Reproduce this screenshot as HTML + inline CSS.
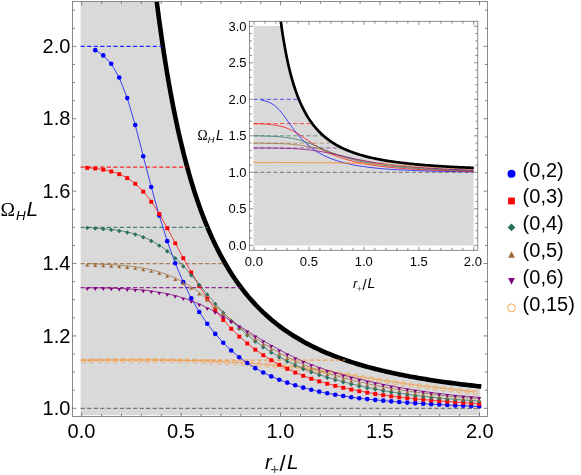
<!DOCTYPE html>
<html><head><meta charset="utf-8"><title>plot</title>
<style>html,body{margin:0;padding:0;background:#fff;}body{width:581px;height:475px;overflow:hidden;position:relative;font-family:"Liberation Sans",sans-serif;}</style></head>
<body>
<svg width="581" height="475" viewBox="0 0 581 475" style="position:absolute;left:0;top:0;will-change:transform;transform:translateZ(0)">
<rect x="0" y="0" width="581" height="475" fill="#fff"/>
<defs><clipPath id="cm"><rect x="72.45" y="1.45" width="415" height="415"/></clipPath>
<clipPath id="ci"><rect x="249.5" y="21.3" width="228.5" height="229"/></clipPath></defs>
<g clip-path="url(#cm)">
<path d="M80.6 415.3 L80.6 -3.55 L153.3 -3.55 L156.98 3.28 L158.2 12.8 L159.42 21.99 L160.65 30.86 L161.87 39.42 L163.1 47.7 L164.32 55.71 L165.54 63.45 L166.77 70.93 L167.99 78.18 L169.22 85.2 L170.44 92 L171.66 98.58 L172.89 104.97 L174.11 111.16 L175.34 117.17 L176.56 122.99 L177.78 128.65 L179.01 134.14 L180.23 139.47 L181.46 144.65 L182.68 149.69 L183.9 154.58 L185.13 159.34 L186.35 163.96 L187.58 168.47 L188.8 172.85 L190.02 177.11 L191.25 181.26 L192.47 185.3 L193.7 189.24 L194.92 193.07 L196.14 196.81 L197.37 200.45 L198.59 204.01 L199.82 207.47 L201.04 210.85 L205.76 223.12 L210.48 234.3 L215.2 244.52 L219.92 253.89 L224.64 262.49 L229.36 270.4 L234.08 277.71 L238.8 284.46 L243.52 290.71 L248.24 296.51 L252.96 301.9 L257.68 306.92 L262.4 311.6 L267.12 315.97 L271.83 320.05 L276.55 323.88 L281.27 327.46 L285.99 330.83 L290.71 334 L295.43 336.98 L300.15 339.78 L304.87 342.43 L309.59 344.93 L314.31 347.29 L319.03 349.53 L323.75 351.64 L328.47 353.65 L333.19 355.55 L337.91 357.36 L342.63 359.08 L347.35 360.71 L352.07 362.26 L356.79 363.74 L361.51 365.15 L366.23 366.5 L370.95 367.79 L375.67 369.01 L380.39 370.19 L385.11 371.31 L389.83 372.38 L394.55 373.41 L399.27 374.4 L403.99 375.34 L408.71 376.25 L413.42 377.12 L418.14 377.95 L422.86 378.75 L427.58 379.53 L432.3 380.27 L437.02 380.98 L441.74 381.67 L446.46 382.33 L451.18 382.97 L455.9 383.58 L460.62 384.18 L465.34 384.75 L470.06 385.3 L474.78 385.83 L479.5 386.35 L480.2 386.42 L480.2 415.3 Z" fill="#d9d9d9"/>
<path d="M141.37 -156.4 L143.08 -134.6 L144.79 -114.06 L146.49 -94.7 L148.2 -76.42 L149.91 -59.13 L151.62 -42.77 L153.33 -27.26 L155.04 -12.54 L156.74 1.43 L158.45 14.71 L160.16 27.35 L161.87 39.39 L163.58 50.87 L165.28 61.82 L166.99 72.28 L168.7 82.27 L170.41 91.83 L172.12 100.97 L173.82 109.72 L175.53 118.11 L177.24 126.16 L178.95 133.88 L180.66 141.29 L182.37 148.41 L184.07 155.25 L185.78 161.82 L187.49 168.15 L189.2 174.25 L190.91 180.11 L192.61 185.77 L194.32 191.21 L196.03 196.47 L197.74 201.54 L199.45 206.43 L201.15 211.16 L202.86 215.72 L204.57 220.14 L206.28 224.4 L207.99 228.52 L209.7 232.51 L211.4 236.38 L213.11 240.11 L214.82 243.73 L216.53 247.24 L218.24 250.64 L219.94 253.94 L221.65 257.13 L223.36 260.23 L225.07 263.24 L226.78 266.16 L228.49 268.99 L230.19 271.74 L231.9 274.41 L233.61 277.01 L235.32 279.53 L237.03 281.99 L238.73 284.37 L240.44 286.69 L242.15 288.95 L243.86 291.14 L245.57 293.28 L247.27 295.36 L248.98 297.39 L250.69 299.36 L252.4 301.28 L254.11 303.16 L255.82 304.98 L257.52 306.76 L259.23 308.5 L260.94 310.19 L262.65 311.84 L264.36 313.45 L266.06 315.02 L267.77 316.55 L269.48 318.05 L271.19 319.51 L272.9 320.93 L274.61 322.33 L276.31 323.69 L278.02 325.02 L279.73 326.31 L281.44 327.58 L283.15 328.82 L284.85 330.04 L286.56 331.22 L288.27 332.38 L289.98 333.52 L291.69 334.63 L293.39 335.71 L295.1 336.77 L296.81 337.81 L298.52 338.83 L300.23 339.83 L301.94 340.8 L303.64 341.75 L305.35 342.69 L307.06 343.61 L308.77 344.5 L310.48 345.38 L312.18 346.24 L313.89 347.09 L315.6 347.91 L317.31 348.72 L319.02 349.52 L320.72 350.3 L322.43 351.06 L324.14 351.81 L325.85 352.55 L327.56 353.27 L329.27 353.98 L330.97 354.67 L332.68 355.35 L334.39 356.02 L336.1 356.68 L337.81 357.32 L339.51 357.95 L341.22 358.57 L342.93 359.18 L344.64 359.78 L346.35 360.37 L348.06 360.95 L349.76 361.51 L351.47 362.07 L353.18 362.62 L354.89 363.16 L356.6 363.68 L358.3 364.2 L360.01 364.71 L361.72 365.22 L363.43 365.71 L365.14 366.2 L366.84 366.67 L368.55 367.14 L370.26 367.6 L371.97 368.06 L373.68 368.5 L375.39 368.94 L377.09 369.37 L378.8 369.8 L380.51 370.22 L382.22 370.63 L383.93 371.03 L385.63 371.43 L387.34 371.82 L389.05 372.21 L390.76 372.59 L392.47 372.96 L394.17 373.33 L395.88 373.69 L397.59 374.05 L399.3 374.4 L401.01 374.75 L402.72 375.09 L404.42 375.43 L406.13 375.76 L407.84 376.08 L409.55 376.4 L411.26 376.72 L412.96 377.03 L414.67 377.34 L416.38 377.64 L418.09 377.94 L419.8 378.24 L421.51 378.53 L423.21 378.81 L424.92 379.09 L426.63 379.37 L428.34 379.65 L430.05 379.92 L431.75 380.18 L433.46 380.45 L435.17 380.7 L436.88 380.96 L438.59 381.21 L440.29 381.46 L442 381.71 L443.71 381.95 L445.42 382.19 L447.13 382.42 L448.84 382.65 L450.54 382.88 L452.25 383.11 L453.96 383.33 L455.67 383.55 L457.38 383.77 L459.08 383.98 L460.79 384.2 L462.5 384.41 L464.21 384.61 L465.92 384.82 L467.62 385.02 L469.33 385.22 L471.04 385.41 L472.75 385.61 L474.46 385.8 L476.17 385.99 L477.87 386.17 L479.58 386.36 L481.29 386.54" fill="none" stroke="#000" stroke-width="4.6" stroke-linejoin="round"/>
<line x1="80.6" y1="408.3" x2="480.2" y2="408.3" stroke="#3c3c3c" stroke-width="0.8" stroke-dasharray="4.2 2.35"/>
<line x1="80.6" y1="46.4" x2="162.9" y2="46.4" stroke="#0000ff" stroke-width="1.2" stroke-dasharray="4.2 2.35" stroke-opacity="0.82"/>
<line x1="80.6" y1="167.03" x2="187.18" y2="167.03" stroke="#ff0000" stroke-width="1.2" stroke-dasharray="4.2 2.35" stroke-opacity="0.82"/>
<line x1="80.6" y1="227.35" x2="207.5" y2="227.35" stroke="#2a6f60" stroke-width="1.2" stroke-dasharray="4.2 2.35" stroke-opacity="0.82"/>
<line x1="80.6" y1="263.54" x2="225.24" y2="263.54" stroke="#9c6a3a" stroke-width="1.2" stroke-dasharray="4.2 2.35" stroke-opacity="0.82"/>
<line x1="80.6" y1="287.67" x2="241.17" y2="287.67" stroke="#800080" stroke-width="1.2" stroke-dasharray="4.2 2.35" stroke-opacity="0.82"/>
<line x1="80.6" y1="360.05" x2="345.41" y2="360.05" stroke="#f79433" stroke-width="1.2" stroke-dasharray="4.2 2.35" stroke-opacity="0.82"/>
<path d="M83.3 360.29 L91.3 360.17 L99.3 360.07 L107.3 359.98 L115.3 359.91 L123.3 359.86 L131.3 359.83 L139.3 359.83 L147.3 359.85 L155.3 359.9 L163.3 359.99 L171.3 360.1 L179.3 360.25 L187.3 360.43 L195.3 360.65 L203.3 360.91 L211.3 361.22 L219.3 361.56 L227.3 361.96 L235.3 362.39 L243.3 362.88 L251.3 363.42 L259.3 364.02 L267.3 364.67 L275.3 365.37 L283.3 366.14 L291.3 366.96 L299.3 367.85 L307.3 368.8 L315.3 369.82 L323.3 370.91 L331.3 372.07 L339.3 373.29 L347.3 374.57 L355.3 375.88 L363.3 377.19 L371.3 378.51 L379.3 379.79 L387.3 381.03 L395.3 382.22 L403.3 383.35 L411.3 384.43 L419.3 385.46 L427.3 386.46 L435.3 387.43 L443.3 388.36 L451.3 389.27 L459.3 390.16 L467.3 391.04 L475.3 391.91" fill="none" stroke="#f79433" stroke-width="0.72" stroke-linejoin="round"/>
<g><circle cx="83.3" cy="360.79" r="2.2" fill="none" stroke="#f79433" stroke-width="0.6"/><circle cx="91.3" cy="360.67" r="2.2" fill="none" stroke="#f79433" stroke-width="0.6"/><circle cx="99.3" cy="360.57" r="2.2" fill="none" stroke="#f79433" stroke-width="0.6"/><circle cx="107.3" cy="360.48" r="2.2" fill="none" stroke="#f79433" stroke-width="0.6"/><circle cx="115.3" cy="360.41" r="2.2" fill="none" stroke="#f79433" stroke-width="0.6"/><circle cx="123.3" cy="360.36" r="2.2" fill="none" stroke="#f79433" stroke-width="0.6"/><circle cx="131.3" cy="360.33" r="2.2" fill="none" stroke="#f79433" stroke-width="0.6"/><circle cx="139.3" cy="360.33" r="2.2" fill="none" stroke="#f79433" stroke-width="0.6"/><circle cx="147.3" cy="360.35" r="2.2" fill="none" stroke="#f79433" stroke-width="0.6"/><circle cx="155.3" cy="360.4" r="2.2" fill="none" stroke="#f79433" stroke-width="0.6"/><circle cx="163.3" cy="360.49" r="2.2" fill="none" stroke="#f79433" stroke-width="0.6"/><circle cx="171.3" cy="360.6" r="2.2" fill="none" stroke="#f79433" stroke-width="0.6"/><circle cx="179.3" cy="360.75" r="2.2" fill="none" stroke="#f79433" stroke-width="0.6"/><circle cx="187.3" cy="360.93" r="2.2" fill="none" stroke="#f79433" stroke-width="0.6"/><circle cx="195.3" cy="361.15" r="2.2" fill="none" stroke="#f79433" stroke-width="0.6"/><circle cx="203.3" cy="361.41" r="2.2" fill="none" stroke="#f79433" stroke-width="0.6"/><circle cx="211.3" cy="361.72" r="2.2" fill="none" stroke="#f79433" stroke-width="0.6"/><circle cx="219.3" cy="362.06" r="2.2" fill="none" stroke="#f79433" stroke-width="0.6"/><circle cx="227.3" cy="362.46" r="2.2" fill="none" stroke="#f79433" stroke-width="0.6"/><circle cx="235.3" cy="362.89" r="2.2" fill="none" stroke="#f79433" stroke-width="0.6"/><circle cx="243.3" cy="363.38" r="2.2" fill="none" stroke="#f79433" stroke-width="0.6"/><circle cx="251.3" cy="363.92" r="2.2" fill="none" stroke="#f79433" stroke-width="0.6"/><circle cx="259.3" cy="364.52" r="2.2" fill="none" stroke="#f79433" stroke-width="0.6"/><circle cx="267.3" cy="365.17" r="2.2" fill="none" stroke="#f79433" stroke-width="0.6"/><circle cx="275.3" cy="365.87" r="2.2" fill="none" stroke="#f79433" stroke-width="0.6"/><circle cx="283.3" cy="366.64" r="2.2" fill="none" stroke="#f79433" stroke-width="0.6"/><circle cx="291.3" cy="367.46" r="2.2" fill="none" stroke="#f79433" stroke-width="0.6"/><circle cx="299.3" cy="368.35" r="2.2" fill="none" stroke="#f79433" stroke-width="0.6"/><circle cx="307.3" cy="369.3" r="2.2" fill="none" stroke="#f79433" stroke-width="0.6"/><circle cx="315.3" cy="370.32" r="2.2" fill="none" stroke="#f79433" stroke-width="0.6"/><circle cx="323.3" cy="371.41" r="2.2" fill="none" stroke="#f79433" stroke-width="0.6"/><circle cx="331.3" cy="372.57" r="2.2" fill="none" stroke="#f79433" stroke-width="0.6"/><circle cx="339.3" cy="373.79" r="2.2" fill="none" stroke="#f79433" stroke-width="0.6"/><circle cx="347.3" cy="375.07" r="2.2" fill="none" stroke="#f79433" stroke-width="0.6"/><circle cx="355.3" cy="376.38" r="2.2" fill="none" stroke="#f79433" stroke-width="0.6"/><circle cx="363.3" cy="377.69" r="2.2" fill="none" stroke="#f79433" stroke-width="0.6"/><circle cx="371.3" cy="379.01" r="2.2" fill="none" stroke="#f79433" stroke-width="0.6"/><circle cx="379.3" cy="380.29" r="2.2" fill="none" stroke="#f79433" stroke-width="0.6"/><circle cx="387.3" cy="381.53" r="2.2" fill="none" stroke="#f79433" stroke-width="0.6"/><circle cx="395.3" cy="382.72" r="2.2" fill="none" stroke="#f79433" stroke-width="0.6"/><circle cx="403.3" cy="383.85" r="2.2" fill="none" stroke="#f79433" stroke-width="0.6"/><circle cx="411.3" cy="384.93" r="2.2" fill="none" stroke="#f79433" stroke-width="0.6"/><circle cx="419.3" cy="385.96" r="2.2" fill="none" stroke="#f79433" stroke-width="0.6"/><circle cx="427.3" cy="386.96" r="2.2" fill="none" stroke="#f79433" stroke-width="0.6"/><circle cx="435.3" cy="387.93" r="2.2" fill="none" stroke="#f79433" stroke-width="0.6"/><circle cx="443.3" cy="388.86" r="2.2" fill="none" stroke="#f79433" stroke-width="0.6"/><circle cx="451.3" cy="389.77" r="2.2" fill="none" stroke="#f79433" stroke-width="0.6"/><circle cx="459.3" cy="390.66" r="2.2" fill="none" stroke="#f79433" stroke-width="0.6"/><circle cx="467.3" cy="391.54" r="2.2" fill="none" stroke="#f79433" stroke-width="0.6"/><circle cx="475.3" cy="392.41" r="2.2" fill="none" stroke="#f79433" stroke-width="0.6"/></g>
<path d="M95.25 50.15 L103.25 55.41 L111.25 63.82 L119.25 77.52 L127.25 98.09 L135.25 124.99 L143.25 156.2 L151.25 186.97 L159.25 215.55 L167.25 241.17 L175.25 263.27 L183.25 282.14 L191.25 298.22 L199.25 311.96 L207.25 323.75 L215.25 333.91 L223.25 342.76 L231.25 350.49 L239.25 357.21 L247.25 363.06 L255.25 368.14 L263.25 372.55 L271.25 376.38 L279.25 379.72 L287.25 382.66 L295.25 385.3 L303.25 387.67 L311.25 389.78 L319.25 391.65 L327.25 393.31 L335.25 394.77 L343.25 396.07 L351.25 397.21 L359.25 398.22 L367.25 399.11 L375.25 399.92 L383.25 400.66 L391.25 401.34 L399.25 401.98 L407.25 402.58 L415.25 403.13 L423.25 403.65 L431.25 404.13 L439.25 404.57 L447.25 404.99 L455.25 405.38 L463.25 405.74 L471.25 406.09 L479.25 406.41" fill="none" stroke="#0000ff" stroke-width="0.72" stroke-linejoin="round"/>
<g><circle cx="95.25" cy="50.15" r="2.3" fill="#0000ff"/><circle cx="103.25" cy="55.41" r="2.3" fill="#0000ff"/><circle cx="111.25" cy="63.82" r="2.3" fill="#0000ff"/><circle cx="119.25" cy="77.52" r="2.3" fill="#0000ff"/><circle cx="127.25" cy="98.09" r="2.3" fill="#0000ff"/><circle cx="135.25" cy="124.99" r="2.3" fill="#0000ff"/><circle cx="143.25" cy="156.2" r="2.3" fill="#0000ff"/><circle cx="151.25" cy="186.97" r="2.3" fill="#0000ff"/><circle cx="159.25" cy="215.55" r="2.3" fill="#0000ff"/><circle cx="167.25" cy="241.17" r="2.3" fill="#0000ff"/><circle cx="175.25" cy="263.27" r="2.3" fill="#0000ff"/><circle cx="183.25" cy="282.14" r="2.3" fill="#0000ff"/><circle cx="191.25" cy="298.22" r="2.3" fill="#0000ff"/><circle cx="199.25" cy="311.96" r="2.3" fill="#0000ff"/><circle cx="207.25" cy="323.75" r="2.3" fill="#0000ff"/><circle cx="215.25" cy="333.91" r="2.3" fill="#0000ff"/><circle cx="223.25" cy="342.76" r="2.3" fill="#0000ff"/><circle cx="231.25" cy="350.49" r="2.3" fill="#0000ff"/><circle cx="239.25" cy="357.21" r="2.3" fill="#0000ff"/><circle cx="247.25" cy="363.06" r="2.3" fill="#0000ff"/><circle cx="255.25" cy="368.14" r="2.3" fill="#0000ff"/><circle cx="263.25" cy="372.55" r="2.3" fill="#0000ff"/><circle cx="271.25" cy="376.38" r="2.3" fill="#0000ff"/><circle cx="279.25" cy="379.72" r="2.3" fill="#0000ff"/><circle cx="287.25" cy="382.66" r="2.3" fill="#0000ff"/><circle cx="295.25" cy="385.3" r="2.3" fill="#0000ff"/><circle cx="303.25" cy="387.67" r="2.3" fill="#0000ff"/><circle cx="311.25" cy="389.78" r="2.3" fill="#0000ff"/><circle cx="319.25" cy="391.65" r="2.3" fill="#0000ff"/><circle cx="327.25" cy="393.31" r="2.3" fill="#0000ff"/><circle cx="335.25" cy="394.77" r="2.3" fill="#0000ff"/><circle cx="343.25" cy="396.07" r="2.3" fill="#0000ff"/><circle cx="351.25" cy="397.21" r="2.3" fill="#0000ff"/><circle cx="359.25" cy="398.22" r="2.3" fill="#0000ff"/><circle cx="367.25" cy="399.11" r="2.3" fill="#0000ff"/><circle cx="375.25" cy="399.92" r="2.3" fill="#0000ff"/><circle cx="383.25" cy="400.66" r="2.3" fill="#0000ff"/><circle cx="391.25" cy="401.34" r="2.3" fill="#0000ff"/><circle cx="399.25" cy="401.98" r="2.3" fill="#0000ff"/><circle cx="407.25" cy="402.58" r="2.3" fill="#0000ff"/><circle cx="415.25" cy="403.13" r="2.3" fill="#0000ff"/><circle cx="423.25" cy="403.65" r="2.3" fill="#0000ff"/><circle cx="431.25" cy="404.13" r="2.3" fill="#0000ff"/><circle cx="439.25" cy="404.57" r="2.3" fill="#0000ff"/><circle cx="447.25" cy="404.99" r="2.3" fill="#0000ff"/><circle cx="455.25" cy="405.38" r="2.3" fill="#0000ff"/><circle cx="463.25" cy="405.74" r="2.3" fill="#0000ff"/><circle cx="471.25" cy="406.09" r="2.3" fill="#0000ff"/><circle cx="479.25" cy="406.41" r="2.3" fill="#0000ff"/></g>
<path d="M87.25 167.65 L95.25 168.3 L103.25 169.47 L111.25 171.3 L119.25 173.97 L127.25 177.91 L135.25 183.6 L143.25 191.46 L151.25 201.53 L159.25 213.79 L167.25 228 L175.25 243.1 L183.25 257.99 L191.25 272.29 L199.25 285.82 L207.25 298.36 L215.25 309.72 L223.25 319.77 L231.25 328.61 L239.25 336.39 L247.25 343.28 L255.25 349.43 L263.25 355.01 L271.25 360.05 L279.25 364.59 L287.25 368.68 L295.25 372.35 L303.25 375.64 L311.25 378.58 L319.25 381.21 L327.25 383.57 L335.25 385.69 L343.25 387.61 L351.25 389.37 L359.25 390.98 L367.25 392.45 L375.25 393.78 L383.25 394.99 L391.25 396.1 L399.25 397.1 L407.25 398.01 L415.25 398.84 L423.25 399.59 L431.25 400.29 L439.25 400.93 L447.25 401.54 L455.25 402.11 L463.25 402.66 L471.25 403.2 L479.25 403.74" fill="none" stroke="#ff0000" stroke-width="0.72" stroke-linejoin="round"/>
<g><rect x="85.3" y="165.9" width="3.9" height="3.9" fill="#ff0000"/><rect x="93.3" y="166.55" width="3.9" height="3.9" fill="#ff0000"/><rect x="101.3" y="167.72" width="3.9" height="3.9" fill="#ff0000"/><rect x="109.3" y="169.55" width="3.9" height="3.9" fill="#ff0000"/><rect x="117.3" y="172.22" width="3.9" height="3.9" fill="#ff0000"/><rect x="125.3" y="176.16" width="3.9" height="3.9" fill="#ff0000"/><rect x="133.3" y="181.85" width="3.9" height="3.9" fill="#ff0000"/><rect x="141.3" y="189.71" width="3.9" height="3.9" fill="#ff0000"/><rect x="149.3" y="199.78" width="3.9" height="3.9" fill="#ff0000"/><rect x="157.3" y="212.04" width="3.9" height="3.9" fill="#ff0000"/><rect x="165.3" y="226.25" width="3.9" height="3.9" fill="#ff0000"/><rect x="173.3" y="241.35" width="3.9" height="3.9" fill="#ff0000"/><rect x="181.3" y="256.24" width="3.9" height="3.9" fill="#ff0000"/><rect x="189.3" y="270.54" width="3.9" height="3.9" fill="#ff0000"/><rect x="197.3" y="284.07" width="3.9" height="3.9" fill="#ff0000"/><rect x="205.3" y="296.61" width="3.9" height="3.9" fill="#ff0000"/><rect x="213.3" y="307.97" width="3.9" height="3.9" fill="#ff0000"/><rect x="221.3" y="318.02" width="3.9" height="3.9" fill="#ff0000"/><rect x="229.3" y="326.86" width="3.9" height="3.9" fill="#ff0000"/><rect x="237.3" y="334.64" width="3.9" height="3.9" fill="#ff0000"/><rect x="245.3" y="341.53" width="3.9" height="3.9" fill="#ff0000"/><rect x="253.3" y="347.68" width="3.9" height="3.9" fill="#ff0000"/><rect x="261.3" y="353.26" width="3.9" height="3.9" fill="#ff0000"/><rect x="269.3" y="358.3" width="3.9" height="3.9" fill="#ff0000"/><rect x="277.3" y="362.84" width="3.9" height="3.9" fill="#ff0000"/><rect x="285.3" y="366.93" width="3.9" height="3.9" fill="#ff0000"/><rect x="293.3" y="370.6" width="3.9" height="3.9" fill="#ff0000"/><rect x="301.3" y="373.89" width="3.9" height="3.9" fill="#ff0000"/><rect x="309.3" y="376.83" width="3.9" height="3.9" fill="#ff0000"/><rect x="317.3" y="379.46" width="3.9" height="3.9" fill="#ff0000"/><rect x="325.3" y="381.82" width="3.9" height="3.9" fill="#ff0000"/><rect x="333.3" y="383.94" width="3.9" height="3.9" fill="#ff0000"/><rect x="341.3" y="385.86" width="3.9" height="3.9" fill="#ff0000"/><rect x="349.3" y="387.62" width="3.9" height="3.9" fill="#ff0000"/><rect x="357.3" y="389.23" width="3.9" height="3.9" fill="#ff0000"/><rect x="365.3" y="390.7" width="3.9" height="3.9" fill="#ff0000"/><rect x="373.3" y="392.03" width="3.9" height="3.9" fill="#ff0000"/><rect x="381.3" y="393.24" width="3.9" height="3.9" fill="#ff0000"/><rect x="389.3" y="394.35" width="3.9" height="3.9" fill="#ff0000"/><rect x="397.3" y="395.35" width="3.9" height="3.9" fill="#ff0000"/><rect x="405.3" y="396.26" width="3.9" height="3.9" fill="#ff0000"/><rect x="413.3" y="397.09" width="3.9" height="3.9" fill="#ff0000"/><rect x="421.3" y="397.84" width="3.9" height="3.9" fill="#ff0000"/><rect x="429.3" y="398.54" width="3.9" height="3.9" fill="#ff0000"/><rect x="437.3" y="399.18" width="3.9" height="3.9" fill="#ff0000"/><rect x="445.3" y="399.79" width="3.9" height="3.9" fill="#ff0000"/><rect x="453.3" y="400.36" width="3.9" height="3.9" fill="#ff0000"/><rect x="461.3" y="400.91" width="3.9" height="3.9" fill="#ff0000"/><rect x="469.3" y="401.45" width="3.9" height="3.9" fill="#ff0000"/><rect x="477.3" y="401.99" width="3.9" height="3.9" fill="#ff0000"/></g>
<path d="M87.25 227.39 L95.25 228.04 L103.25 228.66 L111.25 229.42 L119.25 230.46 L127.25 231.94 L135.25 234.01 L143.25 236.81 L151.25 240.48 L159.25 245.11 L167.25 250.82 L175.25 257.72 L183.25 265.85 L191.25 274.89 L199.25 284.44 L207.25 294.11 L215.25 303.5 L223.25 312.29 L231.25 320.42 L239.25 327.93 L247.25 334.83 L255.25 341.14 L263.25 346.9 L271.25 352.13 L279.25 356.88 L287.25 361.17 L295.25 365.06 L303.25 368.56 L311.25 371.73 L319.25 374.6 L327.25 377.21 L335.25 379.59 L343.25 381.78 L351.25 383.81 L359.25 385.7 L367.25 387.44 L375.25 389.06 L383.25 390.55 L391.25 391.92 L399.25 393.18 L407.25 394.33 L415.25 395.38 L423.25 396.34 L431.25 397.21 L439.25 398.01 L447.25 398.72 L455.25 399.37 L463.25 399.96 L471.25 400.5 L479.25 400.99" fill="none" stroke="#2a6f60" stroke-width="0.72" stroke-linejoin="round"/>
<g><path d="M87.25 225.69L89.45 227.89L87.25 230.09L85.05 227.89Z" fill="#2a6f60"/><path d="M95.25 226.34L97.45 228.54L95.25 230.74L93.05 228.54Z" fill="#2a6f60"/><path d="M103.25 226.96L105.45 229.16L103.25 231.36L101.05 229.16Z" fill="#2a6f60"/><path d="M111.25 227.72L113.45 229.92L111.25 232.12L109.05 229.92Z" fill="#2a6f60"/><path d="M119.25 228.76L121.45 230.96L119.25 233.16L117.05 230.96Z" fill="#2a6f60"/><path d="M127.25 230.24L129.45 232.44L127.25 234.64L125.05 232.44Z" fill="#2a6f60"/><path d="M135.25 232.31L137.45 234.51L135.25 236.71L133.05 234.51Z" fill="#2a6f60"/><path d="M143.25 235.11L145.45 237.31L143.25 239.51L141.05 237.31Z" fill="#2a6f60"/><path d="M151.25 238.78L153.45 240.98L151.25 243.18L149.05 240.98Z" fill="#2a6f60"/><path d="M159.25 243.41L161.45 245.61L159.25 247.81L157.05 245.61Z" fill="#2a6f60"/><path d="M167.25 249.12L169.45 251.32L167.25 253.52L165.05 251.32Z" fill="#2a6f60"/><path d="M175.25 256.02L177.45 258.22L175.25 260.42L173.05 258.22Z" fill="#2a6f60"/><path d="M183.25 264.15L185.45 266.35L183.25 268.55L181.05 266.35Z" fill="#2a6f60"/><path d="M191.25 273.19L193.45 275.39L191.25 277.59L189.05 275.39Z" fill="#2a6f60"/><path d="M199.25 282.74L201.45 284.94L199.25 287.14L197.05 284.94Z" fill="#2a6f60"/><path d="M207.25 292.41L209.45 294.61L207.25 296.81L205.05 294.61Z" fill="#2a6f60"/><path d="M215.25 301.8L217.45 304L215.25 306.2L213.05 304Z" fill="#2a6f60"/><path d="M223.25 310.59L225.45 312.79L223.25 314.99L221.05 312.79Z" fill="#2a6f60"/><path d="M231.25 318.72L233.45 320.92L231.25 323.12L229.05 320.92Z" fill="#2a6f60"/><path d="M239.25 326.23L241.45 328.43L239.25 330.63L237.05 328.43Z" fill="#2a6f60"/><path d="M247.25 333.13L249.45 335.33L247.25 337.53L245.05 335.33Z" fill="#2a6f60"/><path d="M255.25 339.44L257.45 341.64L255.25 343.84L253.05 341.64Z" fill="#2a6f60"/><path d="M263.25 345.2L265.45 347.4L263.25 349.6L261.05 347.4Z" fill="#2a6f60"/><path d="M271.25 350.43L273.45 352.63L271.25 354.83L269.05 352.63Z" fill="#2a6f60"/><path d="M279.25 355.18L281.45 357.38L279.25 359.58L277.05 357.38Z" fill="#2a6f60"/><path d="M287.25 359.47L289.45 361.67L287.25 363.87L285.05 361.67Z" fill="#2a6f60"/><path d="M295.25 363.36L297.45 365.56L295.25 367.76L293.05 365.56Z" fill="#2a6f60"/><path d="M303.25 366.86L305.45 369.06L303.25 371.26L301.05 369.06Z" fill="#2a6f60"/><path d="M311.25 370.03L313.45 372.23L311.25 374.43L309.05 372.23Z" fill="#2a6f60"/><path d="M319.25 372.9L321.45 375.1L319.25 377.3L317.05 375.1Z" fill="#2a6f60"/><path d="M327.25 375.51L329.45 377.71L327.25 379.91L325.05 377.71Z" fill="#2a6f60"/><path d="M335.25 377.89L337.45 380.09L335.25 382.29L333.05 380.09Z" fill="#2a6f60"/><path d="M343.25 380.08L345.45 382.28L343.25 384.48L341.05 382.28Z" fill="#2a6f60"/><path d="M351.25 382.11L353.45 384.31L351.25 386.51L349.05 384.31Z" fill="#2a6f60"/><path d="M359.25 384L361.45 386.2L359.25 388.4L357.05 386.2Z" fill="#2a6f60"/><path d="M367.25 385.74L369.45 387.94L367.25 390.14L365.05 387.94Z" fill="#2a6f60"/><path d="M375.25 387.36L377.45 389.56L375.25 391.76L373.05 389.56Z" fill="#2a6f60"/><path d="M383.25 388.85L385.45 391.05L383.25 393.25L381.05 391.05Z" fill="#2a6f60"/><path d="M391.25 390.22L393.45 392.42L391.25 394.62L389.05 392.42Z" fill="#2a6f60"/><path d="M399.25 391.48L401.45 393.68L399.25 395.88L397.05 393.68Z" fill="#2a6f60"/><path d="M407.25 392.63L409.45 394.83L407.25 397.03L405.05 394.83Z" fill="#2a6f60"/><path d="M415.25 393.68L417.45 395.88L415.25 398.08L413.05 395.88Z" fill="#2a6f60"/><path d="M423.25 394.64L425.45 396.84L423.25 399.04L421.05 396.84Z" fill="#2a6f60"/><path d="M431.25 395.51L433.45 397.71L431.25 399.91L429.05 397.71Z" fill="#2a6f60"/><path d="M439.25 396.31L441.45 398.51L439.25 400.71L437.05 398.51Z" fill="#2a6f60"/><path d="M447.25 397.02L449.45 399.22L447.25 401.42L445.05 399.22Z" fill="#2a6f60"/><path d="M455.25 397.67L457.45 399.87L455.25 402.07L453.05 399.87Z" fill="#2a6f60"/><path d="M463.25 398.26L465.45 400.46L463.25 402.66L461.05 400.46Z" fill="#2a6f60"/><path d="M471.25 398.8L473.45 401L471.25 403.2L469.05 401Z" fill="#2a6f60"/><path d="M479.25 399.29L481.45 401.49L479.25 403.69L477.05 401.49Z" fill="#2a6f60"/></g>
<path d="M87.25 263.51 L95.25 263.92 L103.25 264.29 L111.25 264.69 L119.25 265.21 L127.25 265.9 L135.25 266.85 L143.25 268.13 L151.25 269.81 L159.25 271.97 L167.25 274.68 L175.25 278.01 L183.25 282.04 L191.25 286.83 L199.25 292.42 L207.25 298.81 L215.25 305.71 L223.25 312.81 L231.25 319.8 L239.25 326.43 L247.25 332.48 L255.25 338.05 L263.25 343.26 L271.25 348.15 L279.25 352.7 L287.25 356.92 L295.25 360.8 L303.25 364.34 L311.25 367.55 L319.25 370.46 L327.25 373.1 L335.25 375.52 L343.25 377.75 L351.25 379.84 L359.25 381.79 L367.25 383.61 L375.25 385.3 L383.25 386.88 L391.25 388.34 L399.25 389.7 L407.25 390.96 L415.25 392.13 L423.25 393.21 L431.25 394.21 L439.25 395.14 L447.25 396 L455.25 396.8 L463.25 397.55 L471.25 398.24 L479.25 398.9" fill="none" stroke="#9c6a3a" stroke-width="0.72" stroke-linejoin="round"/>
<g><path d="M87.25 263.11L89.3 266.51L85.2 266.51Z" fill="#9c6a3a"/><path d="M95.25 263.52L97.3 266.92L93.2 266.92Z" fill="#9c6a3a"/><path d="M103.25 263.89L105.3 267.29L101.2 267.29Z" fill="#9c6a3a"/><path d="M111.25 264.29L113.3 267.69L109.2 267.69Z" fill="#9c6a3a"/><path d="M119.25 264.81L121.3 268.21L117.2 268.21Z" fill="#9c6a3a"/><path d="M127.25 265.5L129.3 268.9L125.2 268.9Z" fill="#9c6a3a"/><path d="M135.25 266.45L137.3 269.85L133.2 269.85Z" fill="#9c6a3a"/><path d="M143.25 267.73L145.3 271.13L141.2 271.13Z" fill="#9c6a3a"/><path d="M151.25 269.41L153.3 272.81L149.2 272.81Z" fill="#9c6a3a"/><path d="M159.25 271.57L161.3 274.97L157.2 274.97Z" fill="#9c6a3a"/><path d="M167.25 274.28L169.3 277.68L165.2 277.68Z" fill="#9c6a3a"/><path d="M175.25 277.61L177.3 281.01L173.2 281.01Z" fill="#9c6a3a"/><path d="M183.25 281.64L185.3 285.04L181.2 285.04Z" fill="#9c6a3a"/><path d="M191.25 286.43L193.3 289.83L189.2 289.83Z" fill="#9c6a3a"/><path d="M199.25 292.02L201.3 295.42L197.2 295.42Z" fill="#9c6a3a"/><path d="M207.25 298.41L209.3 301.81L205.2 301.81Z" fill="#9c6a3a"/><path d="M215.25 305.31L217.3 308.71L213.2 308.71Z" fill="#9c6a3a"/><path d="M223.25 312.41L225.3 315.81L221.2 315.81Z" fill="#9c6a3a"/><path d="M231.25 319.4L233.3 322.8L229.2 322.8Z" fill="#9c6a3a"/><path d="M239.25 326.03L241.3 329.43L237.2 329.43Z" fill="#9c6a3a"/><path d="M247.25 332.08L249.3 335.48L245.2 335.48Z" fill="#9c6a3a"/><path d="M255.25 337.65L257.3 341.05L253.2 341.05Z" fill="#9c6a3a"/><path d="M263.25 342.86L265.3 346.26L261.2 346.26Z" fill="#9c6a3a"/><path d="M271.25 347.75L273.3 351.15L269.2 351.15Z" fill="#9c6a3a"/><path d="M279.25 352.3L281.3 355.7L277.2 355.7Z" fill="#9c6a3a"/><path d="M287.25 356.52L289.3 359.92L285.2 359.92Z" fill="#9c6a3a"/><path d="M295.25 360.4L297.3 363.8L293.2 363.8Z" fill="#9c6a3a"/><path d="M303.25 363.94L305.3 367.34L301.2 367.34Z" fill="#9c6a3a"/><path d="M311.25 367.15L313.3 370.55L309.2 370.55Z" fill="#9c6a3a"/><path d="M319.25 370.06L321.3 373.46L317.2 373.46Z" fill="#9c6a3a"/><path d="M327.25 372.7L329.3 376.1L325.2 376.1Z" fill="#9c6a3a"/><path d="M335.25 375.12L337.3 378.52L333.2 378.52Z" fill="#9c6a3a"/><path d="M343.25 377.35L345.3 380.75L341.2 380.75Z" fill="#9c6a3a"/><path d="M351.25 379.44L353.3 382.84L349.2 382.84Z" fill="#9c6a3a"/><path d="M359.25 381.39L361.3 384.79L357.2 384.79Z" fill="#9c6a3a"/><path d="M367.25 383.21L369.3 386.61L365.2 386.61Z" fill="#9c6a3a"/><path d="M375.25 384.9L377.3 388.3L373.2 388.3Z" fill="#9c6a3a"/><path d="M383.25 386.48L385.3 389.88L381.2 389.88Z" fill="#9c6a3a"/><path d="M391.25 387.94L393.3 391.34L389.2 391.34Z" fill="#9c6a3a"/><path d="M399.25 389.3L401.3 392.7L397.2 392.7Z" fill="#9c6a3a"/><path d="M407.25 390.56L409.3 393.96L405.2 393.96Z" fill="#9c6a3a"/><path d="M415.25 391.73L417.3 395.13L413.2 395.13Z" fill="#9c6a3a"/><path d="M423.25 392.81L425.3 396.21L421.2 396.21Z" fill="#9c6a3a"/><path d="M431.25 393.81L433.3 397.21L429.2 397.21Z" fill="#9c6a3a"/><path d="M439.25 394.74L441.3 398.14L437.2 398.14Z" fill="#9c6a3a"/><path d="M447.25 395.6L449.3 399L445.2 399Z" fill="#9c6a3a"/><path d="M455.25 396.4L457.3 399.8L453.2 399.8Z" fill="#9c6a3a"/><path d="M463.25 397.15L465.3 400.55L461.2 400.55Z" fill="#9c6a3a"/><path d="M471.25 397.84L473.3 401.24L469.2 401.24Z" fill="#9c6a3a"/><path d="M479.25 398.5L481.3 401.9L477.2 401.9Z" fill="#9c6a3a"/></g>
<path d="M87.25 287.79 L95.25 287.8 L103.25 287.89 L111.25 288.1 L119.25 288.41 L127.25 288.84 L135.25 289.4 L143.25 290.11 L151.25 291.02 L159.25 292.19 L167.25 293.7 L175.25 295.6 L183.25 297.96 L191.25 300.77 L199.25 304.01 L207.25 307.69 L215.25 311.77 L223.25 316.23 L231.25 320.99 L239.25 325.92 L247.25 330.91 L255.25 335.87 L263.25 340.68 L271.25 345.31 L279.25 349.72 L287.25 353.89 L295.25 357.77 L303.25 361.34 L311.25 364.58 L319.25 367.52 L327.25 370.2 L335.25 372.65 L343.25 374.93 L351.25 377.06 L359.25 379.05 L367.25 380.93 L375.25 382.7 L383.25 384.38 L391.25 385.96 L399.25 387.45 L407.25 388.85 L415.25 390.15 L423.25 391.37 L431.25 392.5 L439.25 393.53 L447.25 394.47 L455.25 395.32 L463.25 396.07 L471.25 396.73 L479.25 397.3" fill="none" stroke="#800080" stroke-width="0.72" stroke-linejoin="round"/>
<g><path d="M87.25 290.89L89.3 287.49L85.2 287.49Z" fill="#800080"/><path d="M95.25 290.9L97.3 287.5L93.2 287.5Z" fill="#800080"/><path d="M103.25 290.99L105.3 287.59L101.2 287.59Z" fill="#800080"/><path d="M111.25 291.2L113.3 287.8L109.2 287.8Z" fill="#800080"/><path d="M119.25 291.51L121.3 288.11L117.2 288.11Z" fill="#800080"/><path d="M127.25 291.94L129.3 288.54L125.2 288.54Z" fill="#800080"/><path d="M135.25 292.5L137.3 289.1L133.2 289.1Z" fill="#800080"/><path d="M143.25 293.21L145.3 289.81L141.2 289.81Z" fill="#800080"/><path d="M151.25 294.12L153.3 290.72L149.2 290.72Z" fill="#800080"/><path d="M159.25 295.29L161.3 291.89L157.2 291.89Z" fill="#800080"/><path d="M167.25 296.8L169.3 293.4L165.2 293.4Z" fill="#800080"/><path d="M175.25 298.7L177.3 295.3L173.2 295.3Z" fill="#800080"/><path d="M183.25 301.06L185.3 297.66L181.2 297.66Z" fill="#800080"/><path d="M191.25 303.87L193.3 300.47L189.2 300.47Z" fill="#800080"/><path d="M199.25 307.11L201.3 303.71L197.2 303.71Z" fill="#800080"/><path d="M207.25 310.79L209.3 307.39L205.2 307.39Z" fill="#800080"/><path d="M215.25 314.87L217.3 311.47L213.2 311.47Z" fill="#800080"/><path d="M223.25 319.33L225.3 315.93L221.2 315.93Z" fill="#800080"/><path d="M231.25 324.09L233.3 320.69L229.2 320.69Z" fill="#800080"/><path d="M239.25 329.02L241.3 325.62L237.2 325.62Z" fill="#800080"/><path d="M247.25 334.01L249.3 330.61L245.2 330.61Z" fill="#800080"/><path d="M255.25 338.97L257.3 335.57L253.2 335.57Z" fill="#800080"/><path d="M263.25 343.78L265.3 340.38L261.2 340.38Z" fill="#800080"/><path d="M271.25 348.41L273.3 345.01L269.2 345.01Z" fill="#800080"/><path d="M279.25 352.82L281.3 349.42L277.2 349.42Z" fill="#800080"/><path d="M287.25 356.99L289.3 353.59L285.2 353.59Z" fill="#800080"/><path d="M295.25 360.87L297.3 357.47L293.2 357.47Z" fill="#800080"/><path d="M303.25 364.44L305.3 361.04L301.2 361.04Z" fill="#800080"/><path d="M311.25 367.68L313.3 364.28L309.2 364.28Z" fill="#800080"/><path d="M319.25 370.62L321.3 367.22L317.2 367.22Z" fill="#800080"/><path d="M327.25 373.3L329.3 369.9L325.2 369.9Z" fill="#800080"/><path d="M335.25 375.75L337.3 372.35L333.2 372.35Z" fill="#800080"/><path d="M343.25 378.03L345.3 374.63L341.2 374.63Z" fill="#800080"/><path d="M351.25 380.16L353.3 376.76L349.2 376.76Z" fill="#800080"/><path d="M359.25 382.15L361.3 378.75L357.2 378.75Z" fill="#800080"/><path d="M367.25 384.03L369.3 380.63L365.2 380.63Z" fill="#800080"/><path d="M375.25 385.8L377.3 382.4L373.2 382.4Z" fill="#800080"/><path d="M383.25 387.48L385.3 384.08L381.2 384.08Z" fill="#800080"/><path d="M391.25 389.06L393.3 385.66L389.2 385.66Z" fill="#800080"/><path d="M399.25 390.55L401.3 387.15L397.2 387.15Z" fill="#800080"/><path d="M407.25 391.95L409.3 388.55L405.2 388.55Z" fill="#800080"/><path d="M415.25 393.25L417.3 389.85L413.2 389.85Z" fill="#800080"/><path d="M423.25 394.47L425.3 391.07L421.2 391.07Z" fill="#800080"/><path d="M431.25 395.6L433.3 392.2L429.2 392.2Z" fill="#800080"/><path d="M439.25 396.63L441.3 393.23L437.2 393.23Z" fill="#800080"/><path d="M447.25 397.57L449.3 394.17L445.2 394.17Z" fill="#800080"/><path d="M455.25 398.42L457.3 395.02L453.2 395.02Z" fill="#800080"/><path d="M463.25 399.17L465.3 395.77L461.2 395.77Z" fill="#800080"/><path d="M471.25 399.83L473.3 396.43L469.2 396.43Z" fill="#800080"/><path d="M479.25 400.4L481.3 397L477.2 397Z" fill="#800080"/></g>
</g>
<rect x="72.45" y="1.45" width="415" height="415" fill="none" stroke="#787878" stroke-width="0.85"/>
<path d="M81.7 416.45v-3.9M81.7 1.45v3.9M101.59 416.45v-2.5M101.59 1.45v2.5M121.48 416.45v-2.5M121.48 1.45v2.5M141.37 416.45v-2.5M141.37 1.45v2.5M161.26 416.45v-2.5M161.26 1.45v2.5M181.15 416.45v-3.9M181.15 1.45v3.9M201.04 416.45v-2.5M201.04 1.45v2.5M220.93 416.45v-2.5M220.93 1.45v2.5M240.82 416.45v-2.5M240.82 1.45v2.5M260.71 416.45v-2.5M260.71 1.45v2.5M280.6 416.45v-3.9M280.6 1.45v3.9M300.49 416.45v-2.5M300.49 1.45v2.5M320.38 416.45v-2.5M320.38 1.45v2.5M340.27 416.45v-2.5M340.27 1.45v2.5M360.16 416.45v-2.5M360.16 1.45v2.5M380.05 416.45v-3.9M380.05 1.45v3.9M399.94 416.45v-2.5M399.94 1.45v2.5M419.83 416.45v-2.5M419.83 1.45v2.5M439.72 416.45v-2.5M439.72 1.45v2.5M459.61 416.45v-2.5M459.61 1.45v2.5M479.5 416.45v-3.9M479.5 1.45v3.9M72.45 408.3h3.9M487.45 408.3h-3.9M72.45 390.2h2.5M487.45 390.2h-2.5M72.45 372.11h2.5M487.45 372.11h-2.5M72.45 354.02h2.5M487.45 354.02h-2.5M72.45 335.92h3.9M487.45 335.92h-3.9M72.45 317.83h2.5M487.45 317.83h-2.5M72.45 299.73h2.5M487.45 299.73h-2.5M72.45 281.63h2.5M487.45 281.63h-2.5M72.45 263.54h3.9M487.45 263.54h-3.9M72.45 245.45h2.5M487.45 245.45h-2.5M72.45 227.35h2.5M487.45 227.35h-2.5M72.45 209.25h2.5M487.45 209.25h-2.5M72.45 191.16h3.9M487.45 191.16h-3.9M72.45 173.07h2.5M487.45 173.07h-2.5M72.45 154.97h2.5M487.45 154.97h-2.5M72.45 136.88h2.5M487.45 136.88h-2.5M72.45 118.78h3.9M487.45 118.78h-3.9M72.45 100.69h2.5M487.45 100.69h-2.5M72.45 82.59h2.5M487.45 82.59h-2.5M72.45 64.49h2.5M487.45 64.49h-2.5M72.45 46.4h3.9M487.45 46.4h-3.9M72.45 28.31h2.5M487.45 28.31h-2.5M72.45 10.21h2.5M487.45 10.21h-2.5" stroke="#5a5a5a" stroke-width="0.75" fill="none"/>
<text x="70.4" y="415" text-anchor="end" font-family="Liberation Sans, sans-serif" font-size="20">1.0</text>
<text x="70.4" y="342.62" text-anchor="end" font-family="Liberation Sans, sans-serif" font-size="20">1.2</text>
<text x="70.4" y="270.24" text-anchor="end" font-family="Liberation Sans, sans-serif" font-size="20">1.4</text>
<text x="70.4" y="197.86" text-anchor="end" font-family="Liberation Sans, sans-serif" font-size="20">1.6</text>
<text x="70.4" y="125.48" text-anchor="end" font-family="Liberation Sans, sans-serif" font-size="20">1.8</text>
<text x="70.4" y="53.1" text-anchor="end" font-family="Liberation Sans, sans-serif" font-size="20">2.0</text>
<text x="81.5" y="437.9" text-anchor="middle" font-family="Liberation Sans, sans-serif" font-size="20">0.0</text>
<text x="180.95" y="437.9" text-anchor="middle" font-family="Liberation Sans, sans-serif" font-size="20">0.5</text>
<text x="280.4" y="437.9" text-anchor="middle" font-family="Liberation Sans, sans-serif" font-size="20">1.0</text>
<text x="379.85" y="437.9" text-anchor="middle" font-family="Liberation Sans, sans-serif" font-size="20">1.5</text>
<text x="479.8" y="437.9" text-anchor="middle" font-family="Liberation Sans, sans-serif" font-size="20">2.0</text>
<text x="0.5" y="215.9" font-size="19.5" font-family="Liberation Serif, serif">&#937;</text>
<text x="15.9" y="219.6" font-size="13.4" font-family="Liberation Sans, sans-serif" font-style="italic">H</text>
<text x="26.6" y="215.9" font-size="20.8" font-family="Liberation Sans, sans-serif" font-style="italic">L</text>
<text x="264.9" y="468.8" font-size="20" font-family="Liberation Sans, sans-serif" font-style="italic">r</text>
<text x="274.7" y="473.7" font-size="14.3" text-anchor="middle" font-family="Liberation Sans, sans-serif" fill="#4a4a4a">+</text>
<text x="279.4" y="471.2" font-size="22" font-family="Liberation Sans, sans-serif">/</text>
<text x="287.0" y="468.8" font-size="20.8" font-family="Liberation Sans, sans-serif" font-style="italic">L</text>
<rect x="249.5" y="21.3" width="228.25" height="229" fill="#fff"/>
<g clip-path="url(#ci)">
<path d="M253.6 245.6 L253.6 26.1 L281.48 26.1 L281.94 29.57 L282.94 36.12 L283.93 42.2 L284.93 47.88 L285.92 53.17 L286.91 58.13 L287.91 62.77 L288.9 67.13 L289.9 71.22 L290.89 75.08 L291.89 78.71 L292.88 82.15 L293.87 85.39 L294.87 88.46 L295.86 91.37 L296.86 94.13 L297.85 96.75 L298.84 99.24 L299.84 101.61 L300.83 103.87 L301.83 106.02 L302.82 108.07 L303.81 110.03 L304.81 111.9 L305.8 113.69 L306.8 115.4 L307.79 117.04 L308.78 118.61 L309.78 120.11 L310.77 121.55 L311.77 122.94 L312.76 124.26 L313.75 125.54 L314.75 126.77 L315.74 127.95 L316.74 129.09 L317.73 130.18 L318.73 131.23 L319.72 132.25 L320.71 133.23 L321.71 134.17 L322.7 135.08 L323.7 135.96 L324.69 136.81 L325.68 137.63 L326.68 138.43 L327.67 139.19 L328.67 139.94 L329.66 140.65 L330.65 141.35 L331.65 142.02 L332.64 142.67 L333.64 143.3 L334.63 143.91 L335.62 144.51 L336.62 145.08 L337.61 145.64 L338.61 146.18 L339.6 146.71 L340.59 147.21 L341.59 147.71 L342.58 148.19 L343.58 148.66 L344.57 149.11 L345.56 149.55 L346.56 149.98 L347.55 150.4 L348.55 150.81 L349.54 151.2 L350.54 151.59 L351.53 151.96 L352.52 152.32 L353.52 152.68 L354.51 153.03 L355.51 153.36 L356.5 153.69 L357.49 154.01 L358.49 154.32 L359.48 154.63 L360.48 154.93 L361.47 155.21 L362.46 155.5 L363.46 155.77 L364.45 156.04 L365.45 156.31 L366.44 156.56 L367.43 156.81 L368.43 157.06 L369.42 157.3 L370.42 157.53 L371.41 157.76 L372.4 157.98 L373.4 158.2 L374.39 158.41 L375.39 158.62 L376.38 158.83 L377.38 159.03 L378.37 159.22 L379.36 159.41 L380.36 159.6 L381.35 159.78 L382.35 159.96 L383.34 160.14 L384.33 160.31 L385.33 160.48 L386.32 160.64 L387.32 160.8 L388.31 160.96 L389.3 161.12 L390.3 161.27 L391.29 161.42 L392.29 161.56 L393.28 161.71 L394.27 161.85 L395.27 161.98 L396.26 162.12 L397.26 162.25 L398.25 162.38 L399.24 162.51 L400.24 162.63 L401.23 162.76 L402.23 162.88 L403.22 162.99 L404.22 163.11 L405.21 163.22 L406.2 163.34 L407.2 163.45 L408.19 163.55 L409.19 163.66 L410.18 163.76 L411.17 163.86 L412.17 163.96 L413.16 164.06 L414.16 164.16 L415.15 164.26 L416.14 164.35 L417.14 164.44 L418.13 164.53 L419.13 164.62 L420.12 164.71 L421.11 164.79 L422.11 164.88 L423.1 164.96 L424.1 165.04 L425.09 165.12 L426.08 165.2 L427.08 165.28 L428.07 165.36 L429.07 165.43 L430.06 165.51 L431.05 165.58 L432.05 165.65 L433.04 165.72 L434.04 165.79 L435.03 165.86 L436.03 165.93 L437.02 165.99 L438.01 166.06 L439.01 166.12 L440 166.18 L441 166.25 L441.99 166.31 L442.98 166.37 L443.98 166.43 L444.97 166.49 L445.97 166.55 L446.96 166.6 L447.95 166.66 L448.95 166.71 L449.94 166.77 L450.94 166.82 L451.93 166.88 L452.92 166.93 L453.92 166.98 L454.91 167.03 L455.91 167.08 L456.9 167.13 L457.89 167.18 L458.89 167.23 L459.88 167.27 L460.88 167.32 L461.87 167.37 L462.87 167.41 L463.86 167.46 L464.85 167.5 L465.85 167.54 L466.84 167.59 L467.84 167.63 L468.83 167.67 L469.82 167.71 L470.82 167.75 L471.81 167.79 L472.81 167.83 L473.8 167.87 L473.6 167.87 L473.6 245.6 Z" fill="#d9d9d9"/>
<line x1="253.6" y1="172.3" x2="473.6" y2="172.3" stroke="#444" stroke-width="0.7" stroke-dasharray="4.1 2.5"/>
<line x1="253.6" y1="99.3" x2="298.87" y2="99.3" stroke="#0000ff" stroke-width="0.75" stroke-dasharray="4.1 2.5" stroke-opacity="0.85"/>
<line x1="253.6" y1="123.63" x2="312.28" y2="123.63" stroke="#ff0000" stroke-width="0.75" stroke-dasharray="4.1 2.5" stroke-opacity="0.85"/>
<line x1="253.6" y1="135.8" x2="323.51" y2="135.8" stroke="#2a6f60" stroke-width="0.75" stroke-dasharray="4.1 2.5" stroke-opacity="0.85"/>
<line x1="253.6" y1="143.1" x2="333.31" y2="143.1" stroke="#9c6a3a" stroke-width="0.75" stroke-dasharray="4.1 2.5" stroke-opacity="0.85"/>
<line x1="253.6" y1="147.97" x2="342.12" y2="147.97" stroke="#800080" stroke-width="0.75" stroke-dasharray="4.1 2.5" stroke-opacity="0.85"/>
<line x1="253.6" y1="162.57" x2="399.71" y2="162.57" stroke="#f79433" stroke-width="0.75" stroke-dasharray="4.1 2.5" stroke-opacity="0.85"/>
<path d="M260.26 99.56 L261.49 100.06 L265.91 101.12 L270.33 102.81 L274.75 105.58 L279.17 109.73 L283.59 115.15 L288.01 121.45 L292.43 127.66 L296.85 133.42 L301.27 138.59 L305.69 143.05 L310.11 146.85 L314.53 150.1 L318.95 152.87 L323.37 155.24 L327.79 157.29 L332.21 159.08 L336.63 160.64 L341.05 161.99 L345.47 163.17 L349.89 164.2 L354.31 165.09 L358.73 165.86 L363.15 166.53 L367.57 167.13 L371.99 167.66 L376.42 168.14 L380.84 168.56 L385.26 168.94 L389.68 169.28 L394.1 169.57 L398.52 169.83 L402.94 170.06 L407.36 170.27 L411.78 170.45 L416.2 170.61 L420.62 170.76 L425.04 170.9 L429.46 171.03 L433.88 171.15 L438.3 171.26 L442.72 171.36 L447.14 171.46 L451.56 171.55 L455.98 171.63 L460.4 171.71 L464.82 171.78 L469.24 171.85 L473.66 171.92" fill="none" stroke="#0000ff" stroke-width="0.7" stroke-linejoin="round"/>
<path d="M253.67 123.63 L257.07 123.76 L261.49 123.89 L265.91 124.13 L270.33 124.49 L274.75 125.03 L279.17 125.83 L283.59 126.98 L288.01 128.56 L292.43 130.59 L296.85 133.06 L301.27 135.93 L305.69 138.98 L310.11 141.98 L314.53 144.87 L318.95 147.59 L323.37 150.12 L327.79 152.42 L332.21 154.44 L336.63 156.22 L341.05 157.79 L345.47 159.18 L349.89 160.43 L354.31 161.55 L358.73 162.57 L363.15 163.48 L367.57 164.31 L371.99 165.05 L376.42 165.71 L380.84 166.3 L385.26 166.84 L389.68 167.31 L394.1 167.74 L398.52 168.13 L402.94 168.48 L407.36 168.81 L411.78 169.1 L416.2 169.37 L420.62 169.62 L425.04 169.84 L429.46 170.04 L433.88 170.22 L438.3 170.39 L442.72 170.54 L447.14 170.68 L451.56 170.81 L455.98 170.94 L460.4 171.05 L464.82 171.16 L469.24 171.27 L473.66 171.38" fill="none" stroke="#ff0000" stroke-width="0.7" stroke-linejoin="round"/>
<path d="M253.67 135.8 L257.07 135.81 L261.49 135.94 L265.91 136.06 L270.33 136.22 L274.75 136.43 L279.17 136.73 L283.59 137.14 L288.01 137.71 L292.43 138.45 L296.85 139.38 L301.27 140.53 L305.69 141.93 L310.11 143.57 L314.53 145.39 L318.95 147.32 L323.37 149.27 L327.79 151.16 L332.21 152.93 L336.63 154.57 L341.05 156.09 L345.47 157.48 L349.89 158.75 L354.31 159.92 L358.73 160.97 L363.15 161.93 L367.57 162.79 L371.99 163.58 L376.42 164.28 L380.84 164.92 L385.26 165.5 L389.68 166.03 L394.1 166.51 L398.52 166.95 L402.94 167.36 L407.36 167.74 L411.78 168.09 L416.2 168.42 L420.62 168.72 L425.04 169 L429.46 169.25 L433.88 169.48 L438.3 169.69 L442.72 169.89 L447.14 170.06 L451.56 170.22 L455.98 170.37 L460.4 170.5 L464.82 170.62 L469.24 170.73 L473.66 170.82" fill="none" stroke="#2a6f60" stroke-width="0.7" stroke-linejoin="round"/>
<path d="M253.67 143.1 L257.07 143.09 L261.49 143.18 L265.91 143.25 L270.33 143.33 L274.75 143.44 L279.17 143.58 L283.59 143.77 L288.01 144.03 L292.43 144.37 L296.85 144.8 L301.27 145.35 L305.69 146.02 L310.11 146.83 L314.53 147.8 L318.95 148.92 L323.37 150.21 L327.79 151.61 L332.21 153.04 L336.63 154.45 L341.05 155.79 L345.47 157.01 L349.89 158.13 L354.31 159.18 L358.73 160.17 L363.15 161.08 L367.57 161.94 L371.99 162.72 L376.42 163.43 L380.84 164.08 L385.26 164.67 L389.68 165.2 L394.1 165.69 L398.52 166.14 L402.94 166.56 L407.36 166.95 L411.78 167.32 L416.2 167.66 L420.62 167.98 L425.04 168.27 L429.46 168.55 L433.88 168.8 L438.3 169.04 L442.72 169.26 L447.14 169.46 L451.56 169.65 L455.98 169.82 L460.4 169.98 L464.82 170.13 L469.24 170.27 L473.66 170.4" fill="none" stroke="#9c6a3a" stroke-width="0.7" stroke-linejoin="round"/>
<path d="M253.67 147.97 L257.07 147.99 L261.49 147.99 L265.91 148.01 L270.33 148.05 L274.75 148.12 L279.17 148.2 L283.59 148.32 L288.01 148.46 L292.43 148.64 L296.85 148.88 L301.27 149.18 L305.69 149.57 L310.11 150.04 L314.53 150.61 L318.95 151.26 L323.37 152 L327.79 152.83 L332.21 153.73 L336.63 154.69 L341.05 155.68 L345.47 156.69 L349.89 157.69 L354.31 158.66 L358.73 159.59 L363.15 160.48 L367.57 161.32 L371.99 162.11 L376.42 162.83 L380.84 163.48 L385.26 164.07 L389.68 164.61 L394.1 165.11 L398.52 165.57 L402.94 166 L407.36 166.4 L411.78 166.78 L416.2 167.14 L420.62 167.47 L425.04 167.79 L429.46 168.09 L433.88 168.38 L438.3 168.64 L442.72 168.89 L447.14 169.11 L451.56 169.32 L455.98 169.51 L460.4 169.68 L464.82 169.83 L469.24 169.97 L473.66 170.08" fill="none" stroke="#800080" stroke-width="0.7" stroke-linejoin="round"/>
<path d="M253.67 162.57 L254.88 162.62 L259.3 162.59 L263.72 162.57 L268.14 162.55 L272.57 162.54 L276.99 162.53 L281.41 162.52 L285.83 162.52 L290.25 162.53 L294.67 162.54 L299.09 162.55 L303.51 162.58 L307.93 162.61 L312.35 162.64 L316.77 162.69 L321.19 162.74 L325.61 162.8 L330.03 162.87 L334.45 162.95 L338.87 163.04 L343.29 163.14 L347.71 163.25 L352.13 163.37 L356.55 163.5 L360.97 163.64 L365.39 163.79 L369.81 163.96 L374.23 164.14 L378.65 164.33 L383.07 164.54 L387.49 164.76 L391.91 164.99 L396.33 165.24 L400.75 165.5 L405.17 165.76 L409.59 166.03 L414.02 166.29 L418.44 166.55 L422.86 166.8 L427.28 167.04 L431.7 167.27 L436.12 167.48 L440.54 167.69 L444.96 167.9 L449.38 168.09 L453.8 168.28 L458.22 168.46 L462.64 168.64 L467.06 168.82 L471.48 168.99" fill="none" stroke="#f79433" stroke-width="0.7" stroke-linejoin="round"/>
<path d="M278.18 -0.42 L279.16 8.31 L280.14 16.36 L281.13 23.8 L282.11 30.69 L283.09 37.09 L284.08 43.05 L285.06 48.6 L286.04 53.8 L287.03 58.66 L288.01 63.22 L288.99 67.5 L289.97 71.53 L290.96 75.33 L291.94 78.91 L292.92 82.29 L293.91 85.5 L294.89 88.53 L295.87 91.4 L296.86 94.13 L297.84 96.72 L298.82 99.19 L299.8 101.54 L300.79 103.77 L301.77 105.9 L302.75 107.94 L303.74 109.88 L304.72 111.74 L305.7 113.51 L306.69 115.21 L307.67 116.84 L308.65 118.4 L309.63 119.9 L310.62 121.33 L311.6 122.71 L312.58 124.03 L313.57 125.3 L314.55 126.53 L315.53 127.71 L316.52 128.84 L317.5 129.93 L318.48 130.98 L319.47 131.99 L320.45 132.97 L321.43 133.91 L322.41 134.82 L323.4 135.7 L324.38 136.55 L325.36 137.37 L326.35 138.17 L327.33 138.93 L328.31 139.68 L329.3 140.39 L330.28 141.09 L331.26 141.76 L332.24 142.41 L333.23 143.05 L334.21 143.66 L335.19 144.25 L336.18 144.83 L337.16 145.39 L338.14 145.93 L339.13 146.46 L340.11 146.97 L341.09 147.46 L342.07 147.95 L343.06 148.42 L344.04 148.87 L345.02 149.31 L346.01 149.75 L346.99 150.16 L347.97 150.57 L348.96 150.97 L349.94 151.36 L350.92 151.73 L351.9 152.1 L352.89 152.46 L353.87 152.8 L354.85 153.14 L355.84 153.47 L356.82 153.8 L357.8 154.11 L358.79 154.42 L359.77 154.71 L360.75 155.01 L361.74 155.29 L362.72 155.57 L363.7 155.84 L364.68 156.1 L365.67 156.36 L366.65 156.62 L367.63 156.86 L368.62 157.1 L369.6 157.34 L370.58 157.57 L371.57 157.79 L372.55 158.01 L373.53 158.23 L374.51 158.44 L375.5 158.64 L376.48 158.85 L377.46 159.04 L378.45 159.24 L379.43 159.42 L380.41 159.61 L381.4 159.79 L382.38 159.97 L383.36 160.14 L384.34 160.31 L385.33 160.48 L386.31 160.64 L387.29 160.8 L388.28 160.96 L389.26 161.11 L390.24 161.26 L391.23 161.41 L392.21 161.55 L393.19 161.69 L394.17 161.83 L395.16 161.97 L396.14 162.1 L397.12 162.23 L398.11 162.36 L399.09 162.49 L400.07 162.61 L401.06 162.73 L402.04 162.85 L403.02 162.97 L404.01 163.09 L404.99 163.2 L405.97 163.31 L406.95 163.42 L407.94 163.53 L408.92 163.63 L409.9 163.73 L410.89 163.84 L411.87 163.93 L412.85 164.03 L413.84 164.13 L414.82 164.22 L415.8 164.32 L416.78 164.41 L417.77 164.5 L418.75 164.59 L419.73 164.67 L420.72 164.76 L421.7 164.84 L422.68 164.93 L423.67 165.01 L424.65 165.09 L425.63 165.17 L426.61 165.24 L427.6 165.32 L428.58 165.39 L429.56 165.47 L430.55 165.54 L431.53 165.61 L432.51 165.68 L433.5 165.75 L434.48 165.82 L435.46 165.89 L436.45 165.95 L437.43 166.02 L438.41 166.08 L439.39 166.15 L440.38 166.21 L441.36 166.27 L442.34 166.33 L443.33 166.39 L444.31 166.45 L445.29 166.51 L446.28 166.56 L447.26 166.62 L448.24 166.67 L449.22 166.73 L450.21 166.78 L451.19 166.84 L452.17 166.89 L453.16 166.94 L454.14 166.99 L455.12 167.04 L456.11 167.09 L457.09 167.14 L458.07 167.19 L459.05 167.23 L460.04 167.28 L461.02 167.33 L462 167.37 L462.99 167.42 L463.97 167.46 L464.95 167.5 L465.94 167.55 L466.92 167.59 L467.9 167.63 L468.88 167.67 L469.87 167.71 L470.85 167.75 L471.83 167.79 L472.82 167.83 L473.8 167.87" fill="none" stroke="#000" stroke-width="2.7" stroke-linejoin="round"/>
</g>
<rect x="249.5" y="21.3" width="228.25" height="229" fill="none" stroke="#787878" stroke-width="0.85"/>
<path d="M254 250.3v-3.6M254 21.3v3.6M264.99 250.3v-2.4M264.99 21.3v2.4M275.98 250.3v-2.4M275.98 21.3v2.4M286.97 250.3v-2.4M286.97 21.3v2.4M297.96 250.3v-2.4M297.96 21.3v2.4M308.95 250.3v-3.6M308.95 21.3v3.6M319.94 250.3v-2.4M319.94 21.3v2.4M330.93 250.3v-2.4M330.93 21.3v2.4M341.92 250.3v-2.4M341.92 21.3v2.4M352.91 250.3v-2.4M352.91 21.3v2.4M363.9 250.3v-3.6M363.9 21.3v3.6M374.89 250.3v-2.4M374.89 21.3v2.4M385.88 250.3v-2.4M385.88 21.3v2.4M396.87 250.3v-2.4M396.87 21.3v2.4M407.86 250.3v-2.4M407.86 21.3v2.4M418.85 250.3v-3.6M418.85 21.3v3.6M429.84 250.3v-2.4M429.84 21.3v2.4M440.83 250.3v-2.4M440.83 21.3v2.4M451.82 250.3v-2.4M451.82 21.3v2.4M462.81 250.3v-2.4M462.81 21.3v2.4M473.8 250.3v-3.6M473.8 21.3v3.6M249.5 245.3h3.6M477.75 245.3h-3.6M249.5 238h2.4M477.75 238h-2.4M249.5 230.7h2.4M477.75 230.7h-2.4M249.5 223.4h2.4M477.75 223.4h-2.4M249.5 216.1h2.4M477.75 216.1h-2.4M249.5 208.8h3.6M477.75 208.8h-3.6M249.5 201.5h2.4M477.75 201.5h-2.4M249.5 194.2h2.4M477.75 194.2h-2.4M249.5 186.9h2.4M477.75 186.9h-2.4M249.5 179.6h2.4M477.75 179.6h-2.4M249.5 172.3h3.6M477.75 172.3h-3.6M249.5 165h2.4M477.75 165h-2.4M249.5 157.7h2.4M477.75 157.7h-2.4M249.5 150.4h2.4M477.75 150.4h-2.4M249.5 143.1h2.4M477.75 143.1h-2.4M249.5 135.8h3.6M477.75 135.8h-3.6M249.5 128.5h2.4M477.75 128.5h-2.4M249.5 121.2h2.4M477.75 121.2h-2.4M249.5 113.9h2.4M477.75 113.9h-2.4M249.5 106.6h2.4M477.75 106.6h-2.4M249.5 99.3h3.6M477.75 99.3h-3.6M249.5 92h2.4M477.75 92h-2.4M249.5 84.7h2.4M477.75 84.7h-2.4M249.5 77.4h2.4M477.75 77.4h-2.4M249.5 70.1h2.4M477.75 70.1h-2.4M249.5 62.8h3.6M477.75 62.8h-3.6M249.5 55.5h2.4M477.75 55.5h-2.4M249.5 48.2h2.4M477.75 48.2h-2.4M249.5 40.9h2.4M477.75 40.9h-2.4M249.5 33.6h2.4M477.75 33.6h-2.4M249.5 26.3h3.6M477.75 26.3h-3.6" stroke="#5a5a5a" stroke-width="0.7" fill="none"/>
<text x="246.6" y="249.7" text-anchor="end" font-family="Liberation Sans, sans-serif" font-size="13">0.0</text>
<text x="246.6" y="213.2" text-anchor="end" font-family="Liberation Sans, sans-serif" font-size="13">0.5</text>
<text x="246.6" y="176.7" text-anchor="end" font-family="Liberation Sans, sans-serif" font-size="13">1.0</text>
<text x="246.6" y="140.2" text-anchor="end" font-family="Liberation Sans, sans-serif" font-size="13">1.5</text>
<text x="246.6" y="103.7" text-anchor="end" font-family="Liberation Sans, sans-serif" font-size="13">2.0</text>
<text x="246.6" y="67.2" text-anchor="end" font-family="Liberation Sans, sans-serif" font-size="13">2.5</text>
<text x="246.6" y="30.7" text-anchor="end" font-family="Liberation Sans, sans-serif" font-size="13">3.0</text>
<text x="253.9" y="265.5" text-anchor="middle" font-family="Liberation Sans, sans-serif" font-size="13">0.0</text>
<text x="308.85" y="265.5" text-anchor="middle" font-family="Liberation Sans, sans-serif" font-size="13">0.5</text>
<text x="363.8" y="265.5" text-anchor="middle" font-family="Liberation Sans, sans-serif" font-size="13">1.0</text>
<text x="418.75" y="265.5" text-anchor="middle" font-family="Liberation Sans, sans-serif" font-size="13">1.5</text>
<text x="472.9" y="265.5" text-anchor="middle" font-family="Liberation Sans, sans-serif" font-size="13">2.0</text>
<text x="197.4" y="140.4" font-size="13.6" font-family="Liberation Serif, serif">&#937;</text>
<text x="207.7" y="142.9" font-size="9.3" font-family="Liberation Sans, sans-serif" font-style="italic">H</text>
<text x="215.9" y="140.4" font-size="13.8" font-family="Liberation Sans, sans-serif" font-style="italic">L</text>
<text x="352.9" y="288.4" font-size="13.3" font-family="Liberation Sans, sans-serif" font-style="italic">r</text>
<text x="359.4" y="291.65" font-size="9.5" text-anchor="middle" font-family="Liberation Sans, sans-serif" fill="#4a4a4a">+</text>
<text x="362.5" y="290.0" font-size="14.6" font-family="Liberation Sans, sans-serif">/</text>
<text x="367.55" y="288.4" font-size="13.8" font-family="Liberation Sans, sans-serif" font-style="italic">L</text>
<circle cx="511.5" cy="173.8" r="4.0" fill="#0000ff"/>
<rect x="508.1" y="197.6" width="6.8" height="6.8" fill="#ff0000"/>
<path d="M511.5 223.55L515.35 227.4L511.5 231.25L507.65 227.4Z" fill="#2a6f60"/>
<path d="M511.5 251.15L514.9 257.85L508.1 257.85Z" fill="#9c6a3a"/>
<path d="M511.5 284.65L514.9 277.95L508.1 277.95Z" fill="#800080"/>
<circle cx="511.5" cy="307.8" r="3.9" fill="none" stroke="#f79433" stroke-width="0.85"/>
<text x="522.6" y="176.55" font-family="Liberation Sans, sans-serif" font-size="20">(0,<tspan dx="0">2</tspan>)</text>
<text x="522.6" y="203.35" font-family="Liberation Sans, sans-serif" font-size="20">(0,<tspan dx="0">3</tspan>)</text>
<text x="522.6" y="230.15" font-family="Liberation Sans, sans-serif" font-size="20">(0,<tspan dx="0">4</tspan>)</text>
<text x="522.6" y="256.95" font-family="Liberation Sans, sans-serif" font-size="20">(0,<tspan dx="0">5</tspan>)</text>
<text x="522.6" y="283.75" font-family="Liberation Sans, sans-serif" font-size="20">(0,<tspan dx="0">6</tspan>)</text>
<text x="522.6" y="310.55" font-family="Liberation Sans, sans-serif" font-size="20">(0,<tspan dx="0">15</tspan>)</text>
</svg>
</body></html>
